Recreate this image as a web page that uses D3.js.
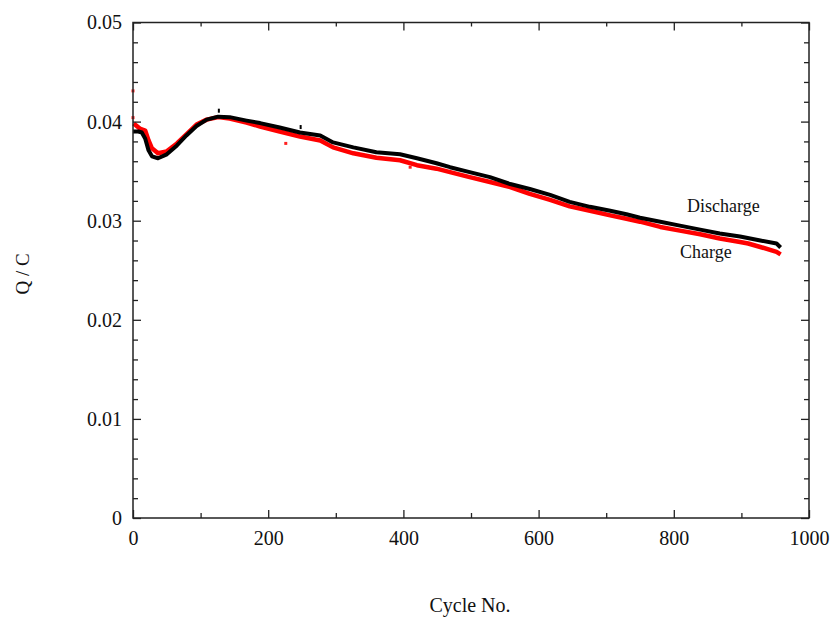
<!DOCTYPE html>
<html>
<head>
<meta charset="utf-8">
<script src="https://cdn.jsdelivr.net/npm/d3@7"></script>
<style>
  body { margin: 0; background: #fff; }
  text { font-family: "Liberation Serif", "Times New Roman", serif; fill: #111; }
</style>
</head>
<body>
<svg id="chart" width="835" height="619"></svg>
<script>
// Discharge (black) — cycle numbers and Q/C values
const dischargeCycles = [0, 8, 13, 18, 23, 28, 37, 50, 65, 79, 94, 109, 126, 143, 168, 188, 217, 247, 277, 296, 326, 360, 395, 420, 449, 469, 498, 528, 558, 587, 617, 646, 676, 706, 730, 750, 780, 809, 839, 868, 898, 928, 952, 958];
const dischargeQ = [0.0390, 0.0390, 0.0389, 0.0383, 0.0371, 0.0365, 0.0363, 0.0367, 0.0376, 0.0386, 0.03955, 0.0402, 0.0405, 0.04045, 0.0401, 0.03985, 0.0394, 0.0389, 0.0386, 0.0379, 0.0374, 0.0369, 0.0367, 0.0363, 0.0358, 0.0354, 0.0349, 0.0344, 0.0337, 0.0332, 0.0326, 0.0319, 0.0314, 0.0310, 0.03065, 0.0303, 0.0299, 0.0295, 0.0291, 0.0287, 0.0284, 0.0280, 0.0277, 0.0273];
// Charge (red)
const chargeCycles = [1, 10, 18, 23, 28, 37, 50, 65, 79, 94, 109, 126, 143, 168, 188, 217, 247, 277, 296, 326, 360, 395, 420, 449, 469, 498, 528, 558, 587, 617, 646, 676, 706, 730, 750, 780, 809, 839, 868, 898, 910, 928, 952, 958];
const chargeQ = [0.0398, 0.0393, 0.0391, 0.0381, 0.0373, 0.0368, 0.0370, 0.0378, 0.0387, 0.0397, 0.0402, 0.04045, 0.0403, 0.0399, 0.0395, 0.0390, 0.0385, 0.0381, 0.0374, 0.0368, 0.03636, 0.0361, 0.0356, 0.03525, 0.0349, 0.0344, 0.0339, 0.0334, 0.0327, 0.0321, 0.03145, 0.0310, 0.03054, 0.0302, 0.0299, 0.02937, 0.0290, 0.02863, 0.0282, 0.02785, 0.0277, 0.02735, 0.02685, 0.0266];
// isolated points
const dischargeOutlierCycles = [127, 248];
const dischargeOutlierQ = [0.0411, 0.03945];
const chargeOutlierCycles = [0, 0, 226, 410];
const chargeOutlierQ = [0.0431, 0.0404, 0.0378, 0.0354];

const xMajorTicks = [0, 200, 400, 600, 800, 1000];
const xMinorTicks = [100, 300, 500, 700, 900];
const yMajorTicks = [0, 0.01, 0.02, 0.03, 0.04, 0.05];
const yMinorTicks = [0.002, 0.004, 0.006, 0.008, 0.012, 0.014, 0.016, 0.018, 0.022, 0.024, 0.026, 0.028, 0.032, 0.034, 0.036, 0.038, 0.042, 0.044, 0.046, 0.048];

const svg = d3.select("#chart");
const x = d3.scaleLinear().domain([0, 1000]).range([133, 809]);
const y = d3.scaleLinear().domain([0, 0.05]).range([518, 22.5]);
const yFmt = d => d === 0 ? "0" : d3.format(".2f")(d);

// series
const line = d3.line().x(d => x(d[0])).y(d => y(d[1])).curve(d3.curveLinear);
const charge = chargeCycles.map((c, i) => [c, chargeQ[i]]);
const discharge = dischargeCycles.map((c, i) => [c, dischargeQ[i]]);

svg.append("path").datum(charge).attr("d", line)
  .attr("fill", "none").attr("stroke", "#ff0000").attr("stroke-width", 4.5).attr("stroke-linejoin", "round");
svg.append("path").datum(discharge).attr("d", line)
  .attr("fill", "none").attr("stroke", "#000").attr("stroke-width", 4).attr("stroke-linejoin", "round");

svg.selectAll(".co").data(chargeOutlierCycles.map((c, i) => [c, chargeOutlierQ[i]]))
  .enter().append("rect").attr("x", d => x(d[0]) - 1.5).attr("y", d => y(d[1]) - 1.5)
  .attr("width", 3).attr("height", 3).attr("fill", "#ff2020");
svg.selectAll(".do").data(dischargeOutlierCycles.map((c, i) => [c, dischargeOutlierQ[i]]))
  .enter().append("rect").attr("x", d => x(d[0]) - 1).attr("y", d => y(d[1]) - 2)
  .attr("width", 2).attr("height", 4).attr("fill", "#000");

// axes (ticks inside, mirrored)
function styleAxis(g) {
  g.select(".domain").remove();
  g.selectAll("line").attr("stroke", "#222").attr("stroke-width", 1.3);
  g.selectAll("text").attr("fill", "#111").style("font-family", '"Liberation Serif", serif').style("font-size", "20px");
}
svg.append("g").attr("transform", "translate(0,518)")
  .call(d3.axisBottom(x).tickValues(xMajorTicks).tickSize(-8).tickPadding(13).tickFormat(d3.format("d")))
  .call(styleAxis);
svg.append("g").attr("transform", "translate(0,518)")
  .call(d3.axisBottom(x).tickValues(xMinorTicks).tickSize(-5).tickFormat("")).call(styleAxis);
svg.append("g").attr("transform", "translate(0,22.5)")
  .call(d3.axisTop(x).tickValues(xMajorTicks).tickSize(-8).tickFormat("")).call(styleAxis);
svg.append("g").attr("transform", "translate(0,22.5)")
  .call(d3.axisTop(x).tickValues(xMinorTicks).tickSize(-4).tickFormat("")).call(styleAxis);

svg.append("g").attr("transform", "translate(133,0)")
  .call(d3.axisLeft(y).tickValues(yMajorTicks).tickSize(-8).tickPadding(11).tickFormat(yFmt))
  .call(styleAxis);
svg.append("g").attr("transform", "translate(133,0)")
  .call(d3.axisLeft(y).tickValues(yMinorTicks).tickSize(-5).tickFormat("")).call(styleAxis);
svg.append("g").attr("transform", "translate(809,0)")
  .call(d3.axisRight(y).tickValues(yMajorTicks).tickSize(-8).tickFormat("")).call(styleAxis);
svg.append("g").attr("transform", "translate(809,0)")
  .call(d3.axisRight(y).tickValues(yMinorTicks).tickSize(-5).tickFormat("")).call(styleAxis);

// frame
svg.append("rect").attr("x", 133).attr("y", 22.5).attr("width", 676).attr("height", 495.5)
  .attr("fill", "none").attr("stroke", "#222").attr("stroke-width", 1.5);

// labels
svg.append("text").attr("x", 470).attr("y", 612).attr("text-anchor", "middle")
  .style("font-size", "20px").text("Cycle No.");
svg.append("text").attr("transform", "translate(29,274) rotate(-90)").attr("text-anchor", "middle")
  .style("font-size", "19px").text("Q / C");
svg.append("text").attr("x", 687).attr("y", 212).style("font-size", "18px").text("Discharge");
svg.append("text").attr("x", 680).attr("y", 258).style("font-size", "18px").text("Charge");
</script>
</body>
</html>
